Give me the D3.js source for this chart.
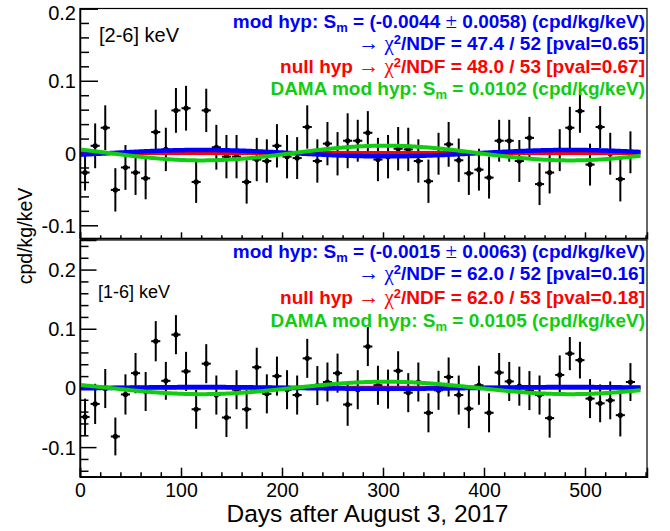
<!DOCTYPE html>
<html><head><meta charset="utf-8">
<script src="https://cdn.jsdelivr.net/npm/d3@7/dist/d3.min.js"></script>
<style>
body{margin:0;background:#fff}
svg{display:block}
text{font-family:"Liberation Sans",Arial,Helvetica,sans-serif}
</style>
</head><body>
<svg id="c" width="670" height="531"></svg>
<script>
// ---------------- data ----------------
const days = [5,15,25,35,45,55,65,75,85,95,105,115,125,135,145,155,165,175,185,195,
  205,215,225,235,245,255,265,275,285,295,305,315,325,335,345,355,365,375,385,395,
  405,415,425,435,445,455,465,475,485,495,505,515,525,535,545];

// [2-6] keV
const valuesTop = [-0.027,0.010,0.035,-0.051,-0.020,-0.027,-0.035,0.029,0.005,0.059,
  0.062,-0.040,0.059,0.008,-0.005,-0.005,-0.040,-0.009,-0.011,0.010,
  -0.005,-0.007,0.036,-0.011,0.013,-0.001,0.017,0.017,0.028,-0.009,
  -0.005,0.006,0.005,-0.011,-0.039,-0.001,0.012,-0.010,-0.028,-0.023,
  -0.034,0.017,0.017,-0.011,0.021,-0.043,-0.027,0.004,0.035,0.058,
  -0.016,0.036,-0.001,-0.036,0.001];
const errorsTop = [0.025,0.031,0.031,0.030,0.031,0.031,0.029,0.031,0.030,0.031,
  0.031,0.029,0.030,0.031,0.030,0.030,0.030,0.030,0.030,0.030,
  0.030,0.029,0.030,0.030,0.030,0.030,0.038,0.029,0.030,0.030,
  0.030,0.030,0.030,0.030,0.030,0.029,0.031,0.030,0.030,0.029,
  0.029,0.029,0.029,0.029,0.029,0.029,0.029,0.029,0.029,0.030,
  0.029,0.029,0.029,0.031,0.029];

// [1-6] keV
const valuesBottom = [-0.049,-0.027,-0.001,-0.082,-0.011,0.025,-0.006,0.079,0.012,0.090,
  0.028,-0.036,0.041,-0.012,-0.050,-0.003,-0.036,0.035,-0.010,0.020,
  -0.003,-0.012,0.050,0.004,0.010,0.025,-0.028,-0.003,0.070,0.0045,
  -0.002,0.029,-0.008,0.010,-0.042,-0.004,0.0185,-0.012,-0.035,0.0045,
  -0.042,0.026,0.011,0.003,-0.0045,-0.012,-0.051,0.022,0.058,0.047,
  -0.018,-0.026,-0.021,-0.046,0.010];
const errorsBottom = [0.031,0.034,0.033,0.032,0.034,0.034,0.033,0.034,0.032,0.033,
  0.033,0.033,0.033,0.033,0.033,0.033,0.033,0.033,0.033,0.033,
  0.033,0.033,0.033,0.033,0.033,0.033,0.036,0.033,0.033,0.033,
  0.033,0.033,0.033,0.033,0.033,0.033,0.033,0.033,0.033,0.033,
  0.033,0.033,0.033,0.033,0.033,0.033,0.033,0.033,0.028,0.031,
  0.033,0.032,0.032,0.036,0.032];

// fit model parameters: [constant, amplitude]
const nullFitTop = [0.0000, 0];
const modFitTop = [-0.0002, -0.0044];
const damaFitTop = [0.0000, 0.0102];
const nullFitBottom = [0.0003, 0];
const modFitBottom = [0.0000, -0.0015];
const damaFitBottom = [0.0000, 0.0105];
const phaseDays = 302.75;   // June 2 relative to Aug 3
const periodDays = 365.25;

const xTicksMajor = [0,100,200,300,400,500];
const xTicksMinor = [20,40,60,80,120,140,160,180,220,240,260,280,320,340,360,380,420,440,460,480,520,540,560];
const yTicksTop = [-0.1,0,0.1,0.2];
const yTicksTopMinor = [-0.12,-0.08,-0.06,-0.04,-0.02,0.02,0.04,0.06,0.08,0.12,0.14,0.16,0.18];
const yTicksBottom = [-0.1,0,0.1,0.2];
const yTicksBottomMinor = [-0.14,-0.12,-0.08,-0.06,-0.04,-0.02,0.02,0.04,0.06,0.08,0.12,0.14,0.16,0.18,0.22,0.24];

const labelTop = "[2-6] keV";
const labelBottom = "[1-6] keV";
const legendTop = [
  {color:"#0000ff", parts:[["mod hyp: S"],["m","sub"],[" = (-0.0044 "],["\u00b1","sym"],[" 0.0058) (cpd/kg/keV)"]]},
  {color:"#0000ff", parts:[["\u2192 ","sym"],["\u03c7","sym"],["2","sup"],["/NDF = 47.4 / 52 [pval=0.65]"]]},
  {color:"#ff0000", parts:[["null hyp "],["\u2192 ","sym"],["\u03c7","sym"],["2","sup"],["/NDF = 48.0 / 53 [pval=0.67]"]]},
  {color:"#11cc11", parts:[["DAMA mod hyp: S"],["m","sub"],[" = 0.0102 (cpd/kg/keV)"]]}
];
const legendBottom = [
  {color:"#0000ff", parts:[["mod hyp: S"],["m","sub"],[" = (-0.0015 "],["\u00b1","sym"],[" 0.0063) (cpd/kg/keV)"]]},
  {color:"#0000ff", parts:[["\u2192 ","sym"],["\u03c7","sym"],["2","sup"],["/NDF = 62.0 / 52 [pval=0.16]"]]},
  {color:"#ff0000", parts:[["null hyp "],["\u2192 ","sym"],["\u03c7","sym"],["2","sup"],["/NDF = 62.0 / 53 [pval=0.18]"]]},
  {color:"#11cc11", parts:[["DAMA mod hyp: S"],["m","sub"],[" = 0.0105 (cpd/kg/keV)"]]}
];
const xTitle = "Days after August 3, 2017";
const yTitle = "cpd/kg/keV";

// ---------------- layout ----------------
const svg = d3.select("#c");
const X0 = 80, X1 = 647;
const x = d3.scaleLinear().domain([0, 561.4]).range([X0, X1]);

const panels = [
  {top:8.5, bot:238.3, dom:[-0.118,0.2], vals:valuesTop, errs:errorsTop,
   nul:nullFitTop, mod:modFitTop, dama:damaFitTop, yMaj:yTicksTop, yMin:yTicksTopMinor,
   xMajLen:6, xMinLen:3, yMajLen:18, yMinLen:9, xLabels:false,
   label:labelTop, labelX:99, labelY:42, labelSize:20,
   legend:legendTop, legendY:[28,50,73,95]},
  {top:240, bot:476.7, dom:[-0.15,0.25], vals:valuesBottom, errs:errorsBottom,
   nul:nullFitBottom, mod:modFitBottom, dama:damaFitBottom, yMaj:yTicksBottom, yMin:yTicksBottomMinor,
   xMajLen:9, xMinLen:4.5, yMajLen:16.5, yMinLen:8.5, xLabels:true,
   label:labelBottom, labelX:98, labelY:298, labelSize:18,
   legend:legendBottom, legendY:[258,280,304,327]}
];

const fmt = v => Math.abs(v) < 1e-9 ? "0" : v.toFixed(1);
const model = (p, t) => p[0] + p[1]*Math.cos(2*Math.PI*(t - phaseDays)/periodDays);
const tGrid = d3.range(1, 556, 1);

panels.forEach(P => {
  const y = d3.scaleLinear().domain(P.dom).range([P.bot, P.top]);
  const g = svg.append("g");

  // frame
  g.append("rect").attr("x",X0).attr("y",P.top).attr("width",X1-X0).attr("height",P.bot-P.top)
    .attr("fill","none").attr("stroke","#000").attr("stroke-width",1.2);

  // y axis
  const ya = g.append("g").attr("transform",`translate(${X0},0)`)
    .call(d3.axisLeft(y).tickValues(P.yMaj).tickSize(-P.yMajLen).tickPadding(4).tickFormat(fmt));
  ya.select(".domain").attr("stroke-width",1.5);
  ya.selectAll(".tick line").attr("stroke-width",1.5);
  ya.selectAll("text").attr("font-size",20).attr("fill","#000")
    .attr("font-family",'"Liberation Sans",Arial,sans-serif')
    .attr("dy", d => (y(d) - 8 < P.top ? 12.5 - y(d) + 7 : 7) + "px");
  g.append("g").attr("transform",`translate(${X0},0)`)
    .call(d3.axisLeft(y).tickValues(P.yMin).tickSize(-P.yMinLen).tickFormat(""))
    .call(s => s.select(".domain").remove())
    .selectAll(".tick line").attr("stroke-width",1.5);

  // x axis
  const xa = g.append("g").attr("transform",`translate(0,${P.bot})`)
    .call(d3.axisBottom(x).tickValues(xTicksMajor).tickSize(-P.xMajLen).tickPadding(6)
      .tickFormat(P.xLabels ? d3.format("d") : ""));
  xa.select(".domain").attr("stroke-width",1.5);
  xa.selectAll(".tick line").attr("stroke-width",1.5);
  xa.selectAll("text").attr("font-size",19.5).attr("fill","#000")
    .attr("font-family",'"Liberation Sans",Arial,sans-serif');
  g.append("g").attr("transform",`translate(0,${P.bot})`)
    .call(d3.axisBottom(x).tickValues(xTicksMinor).tickSize(-P.xMinLen).tickFormat(""))
    .call(s => s.select(".domain").remove())
    .selectAll(".tick line").attr("stroke-width",1.5);

  // data points
  const pts = g.append("g");
  days.forEach((d, i) => {
    const v = P.vals[i], e = P.errs[i];
    pts.append("line").attr("x1",x(d)).attr("x2",x(d)).attr("y1",y(v-e)).attr("y2",y(v+e))
      .attr("stroke","#000").attr("stroke-width",2);
    pts.append("line").attr("x1",x(d-4.5)).attr("x2",x(d+4.5)).attr("y1",y(v)).attr("y2",y(v))
      .attr("stroke","#000").attr("stroke-width",2);
    pts.append("circle").attr("cx",x(d)).attr("cy",y(v)).attr("r",2.6).attr("fill","#000");
  });

  // fit curves
  const line = p => d3.line().x(t => x(t)).y(t => y(model(p, t)))(tGrid);
  g.append("path").attr("d",line(P.nul)).attr("fill","none").attr("stroke","#ff0000").attr("stroke-width",4);
  g.append("path").attr("d",line(P.mod)).attr("fill","none").attr("stroke","#0000ff").attr("stroke-width",4.5);
  g.append("path").attr("d",line(P.dama)).attr("fill","none").attr("stroke","#11cc11").attr("stroke-width",4);

  // panel label
  g.append("text").attr("x",P.labelX).attr("y",P.labelY).attr("font-size",P.labelSize)
    .attr("fill","#000").text(P.label);

  // legend
  P.legend.forEach((L, k) => {
    const t = g.append("text").attr("x",645).attr("y",P.legendY[k]).attr("text-anchor","end")
      .attr("font-size",19).attr("font-weight","bold").attr("fill",L.color);
    L.parts.forEach(([s, kind]) => {
      const ts = t.append("tspan").text(s);
      if (kind === "sub") ts.attr("font-size",13).attr("dy",4).attr("data-shift",4);
      else if (kind === "sup") ts.attr("font-size",13).attr("dy",-6).attr("data-shift",-6);
      else if (kind === "sym") ts.attr("font-family",'"Liberation Serif","DejaVu Serif",serif')
        .attr("font-weight","normal").attr("font-size",21);
    });
    t.selectAll("tspan").each(function(){
      const sh = this.getAttribute("data-shift");
      if (sh !== null && this.nextSibling) this.nextSibling.setAttribute("dy", -(+sh));
    });
  });
});

// axis titles
svg.append("text").attr("x",(X0+X1)/2 + 4).attr("y",522).attr("text-anchor","middle")
  .attr("font-size",24.5).attr("fill","#000").text(xTitle);
svg.append("text").attr("transform","translate(32,236) rotate(-90)").attr("text-anchor","middle")
  .attr("font-size",19.5).attr("fill","#000").text(yTitle);
</script>
</body></html>
